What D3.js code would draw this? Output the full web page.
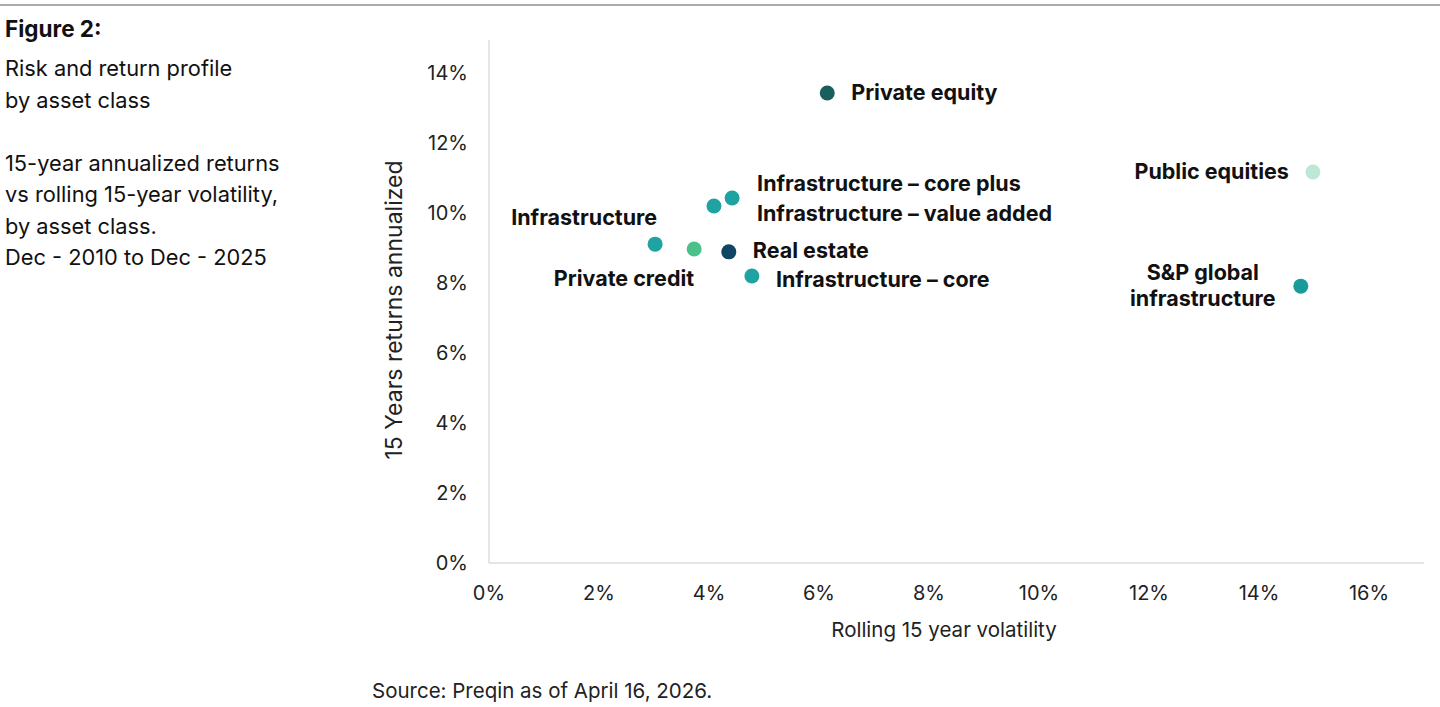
<!DOCTYPE html>
<html><head><meta charset="utf-8">
<script src="https://cdn.jsdelivr.net/npm/d3@7"></script>
<style>body{margin:0;background:#fff;font-family:Inter,"Noto Sans",sans-serif}</style>
</head><body><div id="chart"></div>
<script>
const names = ['Private equity','Public equities','S&P global|infrastructure','Infrastructure – core plus','Infrastructure – value added','Infrastructure','Private credit','Real estate','Infrastructure – core'];
const vol = [6.15,14.98,14.76,4.42,4.09,3.02,3.73,4.36,4.78];
const ret = [13.43,11.17,7.91,10.43,10.2,9.11,8.97,8.89,8.2];
const colors = ['#1b5f5b','#bde8d6','#1a9b9b','#1ea2a2','#1ea2a2','#1ea2a2','#4cc08a','#0e4663','#1ea2a2'];
// label placement: dx, dy, anchor
const labelPos = [[24,0,'start'],[-24,0,'end'],[-24,0,'end'],[25,-14,'start'],[43,8,'start'],[2,-26,'end'],[0,30,'end'],[24,-1,'start'],[24,4,'start']];
const xTicks = [0,2,4,6,8,10,12,14,16];
const yTicks = [0,2,4,6,8,10,12,14];

const W = 1440, H = 707;
const svg = d3.select('#chart').append('svg').attr('width', W).attr('height', H);
const x = d3.scaleLinear().domain([0, 17]).range([489, 1424]);
const y = d3.scaleLinear().domain([0, 14]).range([563, 73]);

svg.append('line').attr('x1', 0).attr('x2', W).attr('y1', 5).attr('y2', 5).attr('stroke', '#aaa').attr('stroke-width', 2);

const left = svg.append('g').attr('font-size', 21.8).attr('fill', '#111');
left.append('text').attr('x', 5).attr('y', 37).attr('font-weight', 700).attr('font-size', 22.5).text('Figure 2:');
['Risk and return profile','by asset class','','15-year annualized returns','vs rolling 15-year volatility,','by asset class.','Dec - 2010 to Dec - 2025'].forEach((t, i) => {
  left.append('text').attr('x', 5).attr('y', 76 + i * 31.5).text(t);
});

svg.append('line').attr('x1', 489).attr('x2', 489).attr('y1', 40).attr('y2', 563).attr('stroke', '#ccc');
svg.append('line').attr('x1', 489).attr('x2', 1424).attr('y1', 563).attr('y2', 563).attr('stroke', '#ccc');

svg.append('g').selectAll('text').data(xTicks).join('text')
  .attr('x', d => x(d)).attr('y', 600).attr('text-anchor', 'middle').attr('font-size', 20).attr('fill', '#222')
  .text(d => d + '%');
svg.append('g').selectAll('text').data(yTicks).join('text')
  .attr('x', 468).attr('y', d => y(d) + 7).attr('text-anchor', 'end').attr('font-size', 20).attr('fill', '#222')
  .text(d => d + '%');

svg.append('text').attr('x', 944).attr('y', 637).attr('text-anchor', 'middle').attr('font-size', 20.5).attr('fill', '#222').text('Rolling 15 year volatility');
svg.append('text').attr('transform', 'translate(402,310) rotate(-90)').attr('text-anchor', 'middle').attr('font-size', 23).attr('fill', '#222').text('15 Years returns annualized');
svg.append('text').attr('x', 372).attr('y', 698).attr('font-size', 20.5).attr('fill', '#222').text('Source: Preqin as of April 16, 2026.');

const pts = svg.append('g');
names.forEach((n, i) => {
  const cx = x(vol[i]), cy = y(ret[i]);
  pts.append('circle').attr('cx', cx).attr('cy', cy).attr('r', 7.5).attr('fill', colors[i]);
  const p = labelPos[i];
  const lines = n.split('|');
  const t = pts.append('text').attr('font-size', 21.5).attr('font-weight', 700).attr('fill', '#111')
    .attr('text-anchor', lines.length > 1 ? 'middle' : p[2]);
  lines.forEach((l, k) => {
    const ox = lines.length > 1 ? -98 : p[0];
    t.append('tspan').attr('x', cx + ox).attr('y', cy + p[1] + 7 + (k - (lines.length - 1) / 2) * 26).text(l);
  });
});
</script></body></html>
